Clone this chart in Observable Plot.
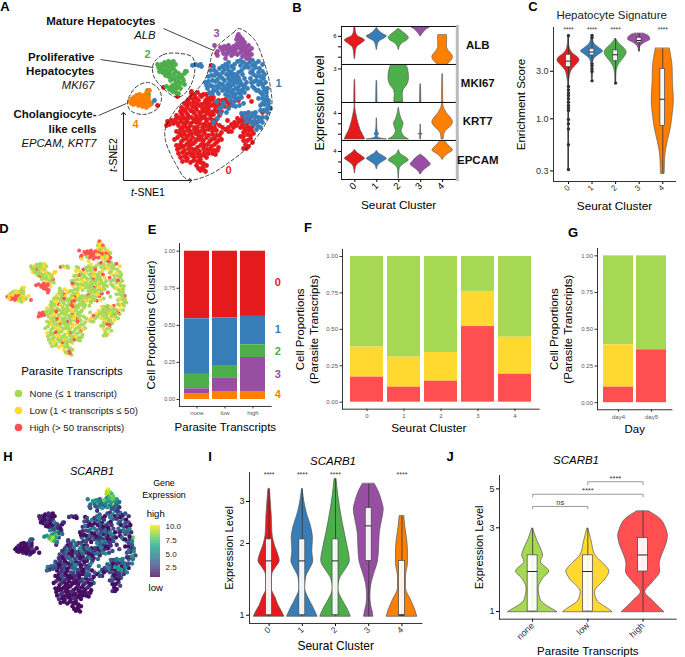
<!DOCTYPE html>
<html><head><meta charset="utf-8">
<script src="https://cdn.jsdelivr.net/npm/d3@7"></script>
<script src="https://cdn.jsdelivr.net/npm/@observablehq/plot@0.6"></script>
<style>
html,body{margin:0;background:#fff}
#fig{position:relative;width:685px;height:657px;overflow:hidden;font-family:"Liberation Sans",Arial,sans-serif;color:#000}
.note{position:absolute;white-space:nowrap;transform:translate(-50%,-50%);line-height:1}
</style></head><body><div id="fig"></div>
<script>
// ---------- colours and categories
const clusterColors=["#E41A1C","#377EB8","#4DAF4A","#984EA3","#FF7F00"];
const parasiteColors=["#A6D854","#FFD92F","#FF4F50"];
const clusterNames=["0","1","2","3","4"];
const parasiteNames=["none","low","high"];
const dayNames=["day4","day5"];
const parasiteLegend=["None (≤ 1 transcript)","Low (1 < transcripts ≤ 50)","High (> 50 transcripts)"];

// ---------- t-SNE cells: [tSNE1, tSNE2, parasite class, SCARB1 expression]
const cluster0=[[191,93,0,3],[197,92,1,5],[203,94,0,2],[190,97,0,1],[196,98,2,4],[201,96,0,1],[207,98,0,6],[213,97,1,2],
[187,101,0,1],[193,102,0,3],[198,100,1,5],[204,103,0,2],[209,101,2,1],[215,102,0,5],[222,100,0,3],[228,103,1,2],
[186,105,1,4],[192,106,0,1],[199,105,0,4],[205,107,2,1],[211,105,0,3],[218,107,0,1],[224,106,1,5],[231,104,0,2],
[183,109,0,1],[190,110,2,3],[196,109,0,2],[202,111,0,6],[208,109,1,1],[214,110,0,4],[221,111,0,1],
[181,113,0,3],[187,114,1,1],[194,113,0,5],[200,115,0,1],[207,113,2,3],[213,114,0,1],[219,115,1,4],[242,116,0,3],[247,113,2,5],
[178,117,0,1],[184,118,0,3],[191,117,0,1],[197,119,1,5],[203,117,0,2],[210,118,0,3],[216,119,0,1],[237,118,1,4],[243,120,0,1],[250,117,0,6],
[167,121,2,5],[171,120,2,4],[169,124,2,2],[173,123,2,3],[180,121,0,1],[186,122,1,3],[193,121,0,1],[199,123,0,4],[206,121,2,1],[212,122,0,2],[227,120,0,5],[234,122,1,3],[242,124,0,2],[248,121,0,5],[256,122,2,1],
[166,125,2,4],[178,125,0,1],[185,126,0,3],[190,125,1,1],[197,127,0,3],[205,125,0,1],[211,127,2,4],[219,125,0,1],[228,127,1,6],[236,125,0,2],[244,128,0,4],[252,126,1,3],
[180,129,1,1],[187,130,0,2],[194,129,0,1],[200,131,2,2],[208,129,0,1],[216,130,0,3],[225,129,1,1],[231,131,0,2],[243,132,0,4],[249,130,0,2],
[179,133,0,1],[184,134,0,4],[191,133,2,1],[198,135,0,2],[204,133,0,1],[212,134,1,1],[219,135,0,3],[240,136,0,2],[247,134,2,1],[253,133,0,3],
[177,137,0,2],[186,138,1,1],[192,137,0,1],[199,139,0,1],[206,137,1,2],[214,138,0,1],[221,139,0,4],[243,140,1,1],[250,138,0,2],
[181,141,0,1],[188,142,0,1],[195,141,1,1],[202,143,0,2],[209,141,0,1],[216,142,2,1],[245,144,0,1],[252,142,0,3],
[176,145,1,1],[183,146,0,1],[190,145,0,1],[197,147,0,1],[204,145,2,2],[211,146,0,1],[218,147,0,1],[243,148,0,2],[248,146,1,1],
[177,149,0,1],[184,150,0,2],[192,149,1,1],[199,151,0,1],[207,149,0,1],[214,150,0,2],
[178,153,0,1],[186,154,1,1],[193,153,0,1],[201,155,0,1],[208,153,2,1],[215,154,0,1],
[180,157,0,2],[187,158,0,1],[194,157,2,1],[200,159,0,1],[206,157,1,1],
[182,161,0,1],[190,162,1,1],[197,161,0,1],[203,163,0,1],
[196,165,1,1],[202,167,2,1],[206,165,0,1],[200,170,1,1],[205,171,0,1],
[248,96,2,2],[251,101,0,3],[262,112,1,3],[238,100,2,1],[216,53,2,4],[211,65,0,1],[191,91,0,2],[163,87,2,5],[177,96,2,2],[157,105,2,1]];
const cluster0Fill=[[194,95,0,2],[200,95,1,4],[206,94,0,3],[210,97,0,1],[188,99,1,3],[193,99,0,2],[205,100,0,5],[212,99,1,4],[218,100,0,1],[225,99,2,3],
[184,103,0,2],[189,103,0,4],[196,103,2,1],[201,104,0,3],[207,103,1,5],[213,104,0,2],[219,104,0,4],[226,101,0,1],
[181,107,0,3],[187,107,1,3],[195,107,0,1],[202,108,0,2],[208,106,2,4],[215,106,0,1],[221,105,1,2],[228,107,0,5],
[180,111,0,2],[185,111,0,1],[192,111,1,4],[199,112,0,3],[205,111,2,1],[211,112,0,3],[217,111,0,5],
[176,115,1,3],[182,115,0,2],[188,116,0,1],[196,116,0,4],[204,116,1,2],[210,115,0,1],
[175,119,0,4],[181,119,0,1],[187,119,2,3],[194,119,0,2],[200,119,0,5],[206,119,1,1],[213,120,0,2],[240,120,0,3],[246,118,1,2],
[176,122,0,3],[183,123,1,2],[190,123,0,1],[196,122,0,4],[203,124,0,3],[209,124,1,1],[215,123,0,3],[231,124,2,2],[238,122,0,5],[246,124,0,1],[252,122,1,4],
[182,127,0,2],[188,128,2,1],[194,127,0,3],[202,127,0,2],[208,127,1,1],[214,127,0,4],[222,127,0,3],[233,127,0,1],[240,127,1,3],[248,127,0,2],
[176,131,0,1],[183,131,0,3],[190,131,1,1],[197,131,0,2],[204,130,0,1],[212,131,2,3],[221,132,0,1],[228,131,0,3],[245,130,1,1],[251,130,0,2],
[181,135,1,1],[188,135,0,2],[195,133,0,1],[201,136,0,1],[208,135,1,3],[216,135,0,2],[243,136,0,3],[250,135,2,1],
[174,139,0,1],[183,139,0,2],[190,140,1,1],[196,139,0,1],[203,140,0,1],[211,139,0,2],[218,140,1,1],[247,140,0,1],
[180,144,0,1],[186,144,2,1],[193,143,0,1],[200,145,1,1],[207,144,0,1],[214,144,0,2],[246,148,0,1],
[180,147,0,1],[188,148,1,1],[195,149,0,2],[203,148,0,1],[210,149,1,1],[217,150,0,1],
[182,152,0,2],[189,152,0,1],[197,153,1,1],[204,152,0,1],[212,153,0,1],[184,156,1,1],[191,155,0,1],[198,156,0,2],[204,155,0,1],[186,160,0,1],[193,160,1,1],[200,162,0,1],[198,168,0,1],[203,169,2,1]];
const cluster1=[[208,76,0,2],[210,70,1,3],[213,66,0,3],[216,72,0,1],[219,68,2,5],[222,66,0,2],[225,64,0,4],[228,62,1,4],[231,66,0,2],[234,64,0,1],[237,61,0,3],[240,60,2,2],[243,62,0,5],[246,64,1,1],[249,62,0,4],[252,60,0,4],[255,63,0,1],[258,61,2,3],[255,67,0,5],[259,68,0,1],[262,64,1,2],[262,71,0,3],
[205,82,0,1],[207,88,1,4],[210,85,0,1],[212,80,0,3],[214,75,2,1],[217,79,0,5],[220,76,0,5],[222,72,1,1],[209,92,0,2],[213,90,0,4],[216,86,0,4],[219,83,1,1],[222,90,0,3],[218,93,0,1],[224,80,0,3],
[226,74,0,1],[228,70,0,4],[231,72,1,1],[234,74,0,6],[228,78,0,3],[231,80,2,2],[235,78,0,5],[238,72,0,3],[241,70,1,1],[227,84,0,4],[230,86,0,5],[233,84,0,1],[236,82,1,3],[239,80,0,1],[226,90,0,3],[229,92,0,3],[232,90,2,1],[235,88,0,5],[238,86,0,1],[241,84,0,4],[244,78,1,3],[232,96,0,2],[235,94,0,5],[238,92,0,3],[241,90,1,1],[230,100,0,5],[234,101,0,2],[228,96,0,4],[238,98,0,1],[241,97,2,2],[244,92,0,3],[244,85,0,6],[247,88,0,1],
[250,72,0,4],[253,74,1,1],[256,76,0,3],[260,76,0,1],[263,78,0,5],[250,78,2,4],[254,81,0,1],[258,84,0,3],[262,84,1,5],[265,82,0,2],[252,86,0,1],[256,90,0,3],[260,92,0,5],[264,90,1,2],[267,88,0,8],[262,98,0,1],[266,96,0,3],[268,100,2,4],[264,104,0,1],[268,106,0,9],[263,110,1,2],[267,112,0,4],[260,105,0,3],[270,108,0,3],[258,98,0,1],
[241,113,1,4],[244,117,0,1],[248,112,0,5],[251,116,0,2],[255,112,2,5],[258,117,0,4],[254,120,0,1],[250,122,1,6],[246,121,0,6],[257,125,0,3],[260,127,0,5],[256,129,1,2],[262,122,0,1],[266,117,0,5],
[216,101,0,4],[222,106,1,4],[220,113,0,2],[217,118,0,5],[228,108,0,2],[235,106,2,6],[243,103,0,3],[213,122,0,3],[192,65,2,2],[195,64,0,3],[198,65,1,1],[200,64,0,2],[201,66,0,1],[185,71,0,4],[154,100,1,1],[151,103,0,2]];
const cluster1Fill=[[211,75,0,4],[214,70,1,2],[218,74,0,1],[224,69,0,3],[227,66,0,5],[233,68,2,2],[240,65,0,5],[244,67,0,4],[248,67,1,2],[252,65,0,1],
[208,81,0,2],[212,86,0,1],[215,81,1,3],[219,87,0,3],[222,84,0,1],[222,78,0,5],[206,85,2,1],[212,93,0,3],[216,90,1,2],[224,87,0,1],[225,94,0,5],
[229,74,0,3],[236,75,0,2],[232,76,1,1],[229,82,0,3],[234,81,0,4],[238,77,0,1],[242,74,2,2],[240,82,0,5],[237,89,1,1],[233,93,0,4],[243,88,0,3],[240,94,0,2],[235,98,1,1],[231,92,0,5],[228,88,0,2],[246,82,0,1],
[252,70,0,3],[258,72,1,3],[264,74,0,1],[251,82,0,2],[256,80,0,5],[260,81,2,4],[263,87,0,1],[254,88,0,4],[258,90,1,1],[262,94,0,3],[266,92,0,5],[265,100,0,2],[262,103,1,4],[266,109,0,6],[260,110,0,2],[268,103,0,5],
[244,113,0,3],[252,113,1,5],[248,117,0,2],[255,116,0,4],[260,120,2,2],[253,124,0,6],[258,121,0,5],[262,117,1,3],[223,102,0,2],[232,105,0,5],[239,105,1,3],[219,108,0,1],[226,112,0,4]];
const cluster2=[[157,64,0,2],[159,66,0,1],[161,64,1,2],[163,66,0,1],[165,64,0,1],[167,66,0,3],[169,63,0,1],[171,62,0,2],[173,61,1,1],[175,64,0,1],[171,67,0,1],[167,69,0,2],[163,69,2,1],[160,68,0,1],[158,67,0,2],[159,71,1,1],[162,72,0,1],[165,72,0,3],[168,72,0,1],[170,70,1,1],[173,68,0,2],[165,75,0,1],[168,76,2,1],[171,78,0,2],[173,74,0,1],[175,71,1,5],[178,73,0,3],[181,75,0,2],[184,73,1,1],[176,77,0,4],[178,81,0,7],[175,83,1,6],[172,85,2,5],[180,83,0,3],[183,80,2,2],[184,84,0,4],[170,80,0,5],[186,71,1,2],[166,86,2,6],[169,89,2,8],[172,91,2,9],[175,92,2,7],[178,93,2,5],[180,88,1,3],[177,86,2,8],[147,90,1,3],[148,94,0,1],
[164,62,0,1],[168,61,0,2],[172,65,1,1],[161,70,0,1],[166,71,0,2],[169,74,0,1],[174,79,0,3],[179,77,1,2],[182,78,0,1],[176,88,2,6],[170,87,2,7],[173,88,2,9]];
const cluster3=[[214,45,2,5],[217,55,1,3],[220,47,2,6],[222,50,2,4],[224,46,2,5],[226,49,2,7],[228,45,2,3],[230,48,2,5],[232,51,2,4],[234,48,2,7],[236,44,1,5],[234,53,2,3],[231,55,2,6],[228,52,2,4],[226,54,2,5],[223,53,0,3],[225,58,1,2],[237,36,1,8],[238,34,2,10],[240,37,1,9],[236,39,0,9],[239,41,1,6],[242,39,2,7],[241,43,1,10],[244,42,0,8],[238,47,2,6],[242,47,1,5],[245,46,2,7],[248,45,1,6],[246,49,2,5],[243,51,0,9],[249,50,2,5],[251,48,0,4],[240,52,1,4],[237,54,2,6],[245,54,0,3],[248,54,1,5],[251,54,2,2],[242,56,1,3],[246,58,0,4],[249,58,2,2],[217,51,2,4],
[223,47,2,6],[229,50,2,4],[233,46,2,8],[239,44,0,7],[243,45,1,8],[235,50,1,5],[241,49,2,6],[247,52,1,4],[227,47,2,5],[238,38,1,9]];
const cluster4=[[129,101,2,1],[131,99,1,1],[133,97,0,2],[134,102,2,1],[136,95,0,1],[137,100,1,1],[138,105,2,2],[140,97,0,1],[141,102,2,1],[142,106,1,1],[143,95,0,3],[144,100,1,1],[145,104,0,1],[146,98,1,2],[147,102,0,1],[148,97,0,1],[149,101,1,3],[136,103,2,1],[133,104,2,1],[139,94,1,1],[146,107,0,2],[142,99,2,1],[150,104,0,1],[131,103,1,1],[138,100,2,1],[146,92,0,4],[149,90,1,3],
[135,99,1,1],[139,103,2,1],[143,103,0,1],[148,105,1,1],[145,95,0,2],[141,96,1,1]];
const tsneCells=[cluster0.concat(cluster0Fill),cluster1.concat(cluster1Fill),cluster2,cluster3,cluster4];
const regionA=[[213,50],[233,32],[238,28],[253,38],[263,60],[270,87],[271,107],[263,127],[247,147],[227,163],[207,175],[187,179],[175,163],[165,140],[165,128],[177,107],[193,93],[205,78],[210,60]];
const regionB=[[153,63],[163,54],[180,53],[192,57],[194,73],[187,90],[177,97],[163,88],[153,75]];
const regionC=[[127,102],[135,87],[147,82],[157,87],[161,97],[157,108],[143,114],[130,110]];
const leaders=[[163,28,213,50],[100,59,153,67],[98,115,126,103]];
const textA=[["Mature Hepatocytes",155,21,"b"],["ALB",155,35,"i"],["Proliferative",94,57,"b"],["Hepatocytes",94,71,"b"],["MKI67",94,85,"i"],["Cholangiocyte-",96,114,"b"],["like cells",96,129,"b"],["EPCAM, KRT7",96,143,"i"]];
const clusterTagsA=[[228,170],[278,83],[147,54],[216,33],[135,124]];

// ---------- violin profiles: [value, half width in category units]
const albV=[[[7.1,.02],[6.4,.05],[6,.15],[5.8,.35],[5.6,.46],[5.3,.3],[5,.12],[4.6,.05],[4.2,.03],[3.8,.01]],
[[6.8,.01],[6.5,.12],[6.2,.3],[6,.46],[5.8,.35],[5.5,.12],[5.1,.04],[4.7,.01]],
[[6.7,.02],[6.4,.2],[6.1,.38],[5.85,.46],[5.6,.38],[5.3,.15],[5,.05],[4.7,.01]],
[[7.6,.1],[7.2,.35],[6.95,.47],[6.7,.3],[6.4,.15],[6,.01]],
[[6.1,.2],[5.8,.21],[5.4,.2],[5,.2],[4.6,.28],[4.3,.4],[4,.47],[3.7,.42],[3.4,.28],[3.2,.15]]];
const mkiV=[[[2,.015],[.1,.03],[0,.03]],[[1.9,.015],[.1,.03],[0,.03]],
[[3.5,.2],[3.3,.35],[2.8,.44],[2.2,.47],[1.6,.4],[1.1,.22],[.7,.18],[.3,.2],[0,.2]],
[[1.6,.015],[.1,.03],[0,.03]],[[2.5,.015],[.1,.03],[0,.03]]];
const krtV=[[[5.1,.01],[4.5,.02],[4,.06],[3.4,.12],[2.8,.2],[2.3,.28],[1.9,.38],[1.5,.47]],
[[3.5,.01],[2.7,.02],[2.2,.05],[2,.1],[1.8,.04],[1.65,.1],[1.5,.46]],
[[4.5,.01],[4,.05],[3.5,.12],[3,.22],[2.6,.17],[2.3,.13],[2,.18],[1.7,.3],[1.5,.46]],
[[2.9,.01],[2.1,.02],[2,.09],[1.9,.02],[1.5,.02]],
[[5,.01],[4.5,.07],[4,.2],[3.6,.36],[3.15,.47],[2.7,.36],[2.3,.15],[1.9,.07],[1.5,.05]]];
const epcV=[[[4.15,.01],[3.9,.1],[3.6,.3],[3.3,.46],[3.05,.3],[2.7,.1],[2.3,.03],[1.9,.01]],
[[4.05,.01],[3.8,.1],[3.55,.3],[3.3,.46],[3.05,.3],[2.75,.1],[2.5,.03],[2.3,.01]],
[[4.1,.01],[3.7,.12],[3.4,.35],[3.15,.46],[2.9,.3],[2.6,.12],[2.2,.03],[1.4,.01]],
[[3.7,.01],[3.4,.2],[3.05,.36],[2.76,.46],[2.45,.3],[2.15,.12],[1.8,.01]],
[[5.1,.08],[4.7,.22],[4.4,.36],[4.1,.47],[3.8,.28],[3.5,.1],[3.2,.01]]];
const sigV=[[[6.9,.01],[5.6,.03],[5,.07],[4.5,.2],[4.1,.42],[3.85,.47],[3.5,.35],[3.1,.15],[2.6,.05],[2.2,.02],[1.2,.01],[.3,.01]],
[[6.8,.01],[6.2,.04],[5.6,.12],[5.1,.32],[4.75,.47],[4.4,.3],[4,.1],[3.5,.03],[2.5,.01]],
[[6.35,.01],[5.9,.1],[5.4,.25],[5,.4],[4.6,.47],[4.1,.36],[3.6,.17],[3.1,.05],[2.7,.02],[2.3,.01]],
[[7.15,.2],[6.9,.35],[6.5,.46],[6.2,.47],[5.8,.25],[5.4,.08],[5,.02],[4.7,.01]],
[[5.04,.3],[4.2,.36],[3.3,.42],[2.4,.43],[1.53,.47],[1.1,.42],[.8,.34],[.6,.22],[.45,.12],[.35,.09],[.28,.08]]];
const sigBox=[[3.3,3.79,4.39],[4.32,4.67,5.04],[3.79,4.39,4.85],[5.8,6.1,6.5],[.85,1.57,3.17]];
const sigOut=[[0,2.11],[0,1.95],[0,1.81],[0,1.71],[0,1.59],[0,1.47],[0,1.36],[0,1.29],[0,1.21],[0,.985],[0,.89],[0,.79],[0,.55],[0,.31],[0,6.8],
[1,6.86],[1,6.5],[1,3.56],[1,3.38],[1,3.17],[1,2.98],[1,2.41],[2,2.28]];
const scarbClusterV=[[[3.38,.02],[3,.05],[2.6,.08],[2.2,.1],[1.95,.18],[1.75,.3],[1.69,.32],[1.58,.2],[1.49,.1],[1.38,.08],[1.29,.08],[1.18,.2],[1.1,.28],[1.04,.38],[.985,.46]],
[[3.38,.01],[3,.06],[2.7,.13],[2.3,.28],[2.1,.32],[1.85,.3],[1.69,.33],[1.55,.22],[1.45,.12],[1.3,.08],[1.17,.2],[1.08,.33],[1.03,.4],[.985,.46]],
[[3.72,.03],[3.2,.08],[2.7,.16],[2.2,.28],[1.95,.36],[1.69,.43],[1.55,.3],[1.42,.13],[1.29,.08],[1.15,.22],[1.05,.38],[.985,.46]],
[[3.55,.18],[3.3,.3],[3,.4],[2.78,.45],[2.5,.4],[2.2,.33],[1.9,.31],[1.69,.28],[1.5,.17],[1.35,.08],[1.2,.05],[1.1,.07],[1.03,.12],[.985,.14]],
[[2.6,.07],[2.35,.1],[2.1,.15],[1.85,.18],[1.65,.18],[1.45,.12],[1.3,.12],[1.15,.28],[1.05,.4],[.985,.46]]];
const scarbClusterBox=[[1,1.69,2.08],[1,1.69,2.08],[1,1.69,2.08],[1.69,2.37,2.82],[1,1,1.69]];
const scarbParasiteV=[[[2.96,.01],[2.6,.07],[2.2,.17],[2.08,.19],[1.92,.15],[1.69,.3],[1.54,.19],[1.35,.11],[1.155,.15],[1.03,.36],[.99,.45]],
[[2.96,.01],[2.5,.07],[2.1,.13],[1.85,.3],[1.69,.39],[1.54,.33],[1.29,.13],[1.155,.17],[1.03,.38],[.99,.45]],
[[3.72,.11],[3.4,.3],[2.95,.42],[2.7,.45],[2.4,.42],[2.08,.34],[1.85,.3],[1.69,.31],[1.47,.18],[1.29,.04],[1.155,.17],[1.03,.33],[.99,.39]]];
const scarbParasiteBox=[[1,1.69,2.09],[1,1.69,2.09],[1.69,2.1,2.62]];
const brackets=[[0,1,3.97,3.85,"ns",4.2,.5],[0,2,4.66,4.51,"****",4.9,1],[1,2,5.49,5.28,"****",5.75,1.5]];

// ---------- proportions
const clusterShare={"0":[.456,.449,.44],"1":[.375,.322,.191],"2":[.097,.087,.086],"3":[.032,.088,.234],"4":[.04,.054,.049]};
const byClusterHigh=[.172,.103,.144,.519,.192];
const byClusterLow=[.206,.206,.197,.241,.254];
const byClusterNone=[.622,.691,.659,.24,.554];
const byDayHigh=[.106,.36];
const byDayLow=[.288,0];
const byDayNone=[.606,.64];

// ---------- helpers
const fig=document.getElementById("fig");
const FONT='"Liberation Sans",Arial,sans-serif';
function panel([l,t,r,b],opts){
  const svg=Plot.plot({width:r-l,height:b-t,margin:0,style:{background:"none",overflow:"visible",fontFamily:FONT},...opts});
  svg.style.position="absolute";svg.style.left=l+"px";svg.style.top=t+"px";svg.style.maxWidth="none";
  fig.append(svg);
}
function note(html,x,y,{size=11,weight="normal",color="#000",rot=0,style="normal"}={}){
  const d=document.createElement("div");d.className="note";d.innerHTML=html;
  d.style.cssText=`left:${x}px;top:${y}px;font-size:${size}px;font-weight:${weight};color:${color};font-style:${style};transform:translate(-50%,-50%) rotate(${rot}deg)`;
  fig.append(d);
}
const yTitle=(t,off,size=11.5)=>Plot.axisY({ticks:[],tickSize:0,label:t,labelAnchor:"center",labelArrow:"none",labelOffset:off,fontSize:size,fill:"#000"});
const xTitle=(t,off,size=11.5)=>Plot.axisX({ticks:[],tickSize:0,label:t,labelAnchor:"center",labelArrow:"none",labelOffset:off,fontSize:size,fill:"#000"});
const axisLines=(c="#333",w=1)=>[Plot.frame({anchor:"left",stroke:c,strokeWidth:w}),Plot.frame({anchor:"bottom",stroke:c,strokeWidth:w})];
function violin(profile,i,fill,sw=.6){
  return Plot.areaX(profile,{y:d=>d[0],x1:d=>i-d[1],x2:d=>i+d[1],fill,stroke:"#555",strokeWidth:sw,curve:"monotone-y",clip:true});
}
function boxMarks(box,i,w,top,bottom){
  return [
    Plot.ruleX([i],{y1:bottom,y2:top,stroke:"#333",strokeWidth:.8}),
    Plot.rect([box],{x1:()=>i-w,x2:()=>i+w,y1:d=>d[0],y2:d=>d[2],fill:"#fff",stroke:"#444",strokeWidth:.7,fillOpacity:.93}),
    Plot.ruleY([box[1]],{x1:i-w,x2:i+w,stroke:"#222",strokeWidth:1})
  ];
}
const stack=(cats,seriesNames,seriesValues)=>seriesNames.flatMap((s,k)=>cats.map((c,j)=>({cat:c,s,v:seriesValues[k][j]})));
const propY={ticks:[0,.25,.5,.75,1],tickFormat:".2f",tickSize:2.5,tickPadding:2,fontSize:6,fill:"#555",stroke:"#333",label:null};
const propX={tickSize:2.5,tickPadding:2,fontSize:6,fill:"#555",stroke:"#333",label:null};

// ---------- A
panel([0,0,290,200],{x:{domain:[0,290],axis:null},y:{domain:[200,0],axis:null},marks:[
  ...tsneCells.map((c,i)=>Plot.dot(c,{x:d=>d[0],y:d=>d[1],r:2.4,fill:clusterColors[i]})),
  ...[regionA,regionB,regionC].map(r=>Plot.line(r,{x:d=>d[0],y:d=>d[1],curve:"catmull-rom-closed",stroke:"#111",strokeWidth:.8,strokeDasharray:"3.5,2.5"})),
  Plot.link(leaders,{x1:d=>d[0],y1:d=>d[1],x2:d=>d[2],y2:d=>d[3],stroke:"#111",strokeWidth:.8}),
  Plot.link([[123,180,123,113],[123,180,190,180]],{x1:d=>d[0],y1:d=>d[1],x2:d=>d[2],y2:d=>d[3],stroke:"#222",strokeWidth:1,markerEnd:"arrow"}),
  Plot.text(textA.filter(d=>d[3]=="b"),{x:d=>d[1],y:d=>d[2],text:d=>d[0],textAnchor:"end",fontSize:11.5,fontWeight:"bold",fill:"#111"}),
  Plot.text(textA.filter(d=>d[3]=="i"),{x:d=>d[1],y:d=>d[2],text:d=>d[0],textAnchor:"end",fontSize:11.3,fontStyle:"italic",fill:"#111"}),
  ...clusterTagsA.map((d,i)=>Plot.text([clusterNames[i]],{x:()=>d[0],y:()=>d[1],text:t=>t,fontSize:11,fontWeight:"bold",fill:clusterColors[i]}))
]});
note("<i>t</i>-SNE1",148,192,{size:10.5});
note("<i>t</i>-SNE2",113,155,{size:10.5,rot:-90});

// ---------- B
const bX={domain:[-.61,4.6],axis:null};
const bRows=[
 {name:"ALB",box:[340.7,26,455,64],d:[3.3,6.95],V:albV,ticks:[6,5,4],lab:[6]},
 {name:"MKI67",box:[340.7,64,455,102],d:[0,3.4],V:mkiV,ticks:[3],lab:[3]},
 {name:"KRT7",box:[340.7,102,455,140],d:[1.4,5.05],V:krtV,ticks:[4,3,2],lab:[4]},
 {name:"EPCAM",box:[340.7,140,455,179],d:[1.33,5.05],V:epcV,ticks:[4,3,2],lab:[4]}];
for(const r of bRows){
  panel(r.box,{x:bX,y:{domain:r.d,axis:null},marks:[
    ...r.V.map((p,i)=>violin(p,i,clusterColors[i])),
    Plot.axisY({ticks:r.ticks,tickSize:3,tickPadding:2,fontSize:6,label:null,tickFormat:v=>r.lab.includes(v)?String(v):""}),
    Plot.frame({anchor:"left",stroke:"#222"}),Plot.frame({anchor:"bottom",stroke:"#111"}),Plot.frame({anchor:"top",stroke:"#111"}),
    Plot.frame({anchor:"right",stroke:"#bbb",strokeWidth:3,dx:1.5}),
    Plot.text([r.name],{frameAnchor:"right",dx:22,text:d=>d,textAnchor:"middle",fontSize:11.5,fontWeight:"bold",fill:"#111"})
  ]});
}
panel([340.7,26,455,179],{x:{...bX},y:{domain:[0,1],axis:null},marks:[
  Plot.axisX({ticks:[0,1,2,3,4],tickSize:3,tickRotate:-45,fontSize:9.5,tickFormat:d=>String(d),tickPadding:2,label:null}),
  yTitle("Expression Level",26,12.5),xTitle("Seurat Cluster",30,11.8)
]});

// ---------- C
panel([553,27,675,181],{x:{domain:[-.635,4.54],axis:null},y:{type:"log",domain:[.235,8.24],axis:null},marks:[
  ...sigV.map((p,i)=>Plot.ruleX([i],{y1:p[p.length-1][0],y2:p[0][0],stroke:"#555",strokeWidth:.8})),
  ...sigV.map((p,i)=>violin(p,i,clusterColors[i])),
  Plot.dot(sigOut,{x:d=>d[0],y:d=>d[1],r:1.7,fill:"#333"}),
  ...sigV.flatMap((p,i)=>boxMarks(sigBox[i],i,.1,p[0][0],p[p.length-1][0])),
  Plot.text([0,1,2,4],{x:d=>d,y:()=>7.88,text:()=>"****",fontSize:6.5,fill:"#333"}),
  Plot.axisY({ticks:[.3,1,3],tickFormat:".1f",tickSize:3,fontSize:9,tickPadding:2,fill:"#333",label:null}),
  Plot.axisX({ticks:[0,1,2,3,4],tickSize:3,tickRotate:-45,fontSize:8,tickFormat:d=>String(d),tickPadding:2,label:null,fill:"#333"}),
  ...axisLines(),yTitle("Enrichment Score",37,11.5),xTitle("Seurat Cluster",28,11.8)
]});
note("Hepatocyte Signature",611.7,16,{size:11.5,color:"#222"});

// ---------- D
const allCells=d3.merge(tsneCells);
panel([0,220,170,370],{x:{domain:[128-6/.845,128+164/.845],axis:null},y:{domain:[33+130/.827,33-20/.827],axis:null},
  color:{type:"ordinal",domain:[0,1,2],range:parasiteColors},marks:[
  Plot.dot(allCells,{x:d=>d[0],y:d=>d[1],r:2,fill:d=>d[2],fillOpacity:.95})
]});
note("Parasite Transcripts",72,372,{size:11.5});
panel([18,383.5,170,434.5],{x:{domain:[0,152],axis:null},y:{type:"point",domain:parasiteLegend,padding:.5,axis:null},marks:[
  Plot.dot(parasiteLegend,{x:()=>0,y:d=>d,r:3.8,fill:d=>parasiteColors[parasiteLegend.indexOf(d)]}),
  Plot.text(parasiteLegend,{x:()=>11,y:d=>d,text:d=>d,textAnchor:"start",fontSize:9.6,fill:"#222"})
]});

// ---------- E
panel([179.3,243,271,406],{x:{type:"band",domain:parasiteNames,paddingInner:.1,paddingOuter:.14,axis:null},y:{domain:[-.0472,1.0519],axis:null},
  color:{domain:clusterNames,range:clusterColors},marks:[
  Plot.barY(stack(parasiteNames,clusterNames,clusterNames.map(c=>clusterShare[c])),{x:"cat",y:"v",fill:"s",order:[...clusterNames].reverse()}),
  Plot.axisY({...propY,fontSize:5.6}),Plot.axisX(propX),
  ...axisLines(),yTitle("Cell Proportions (Cluster)",33,11.5),xTitle("Parasite Transcripts",25,11.5)
]});
[[282],[329],[351],[374],[394]].forEach((d,i)=>note(clusterNames[i],277.7,d[0],{size:11,weight:"bold",color:clusterColors[i]}));

// ---------- F
panel([342.3,249,539,408.7],{x:{type:"band",domain:clusterNames,paddingInner:.095,paddingOuter:.14,axis:null},y:{domain:[-.048,1.048],axis:null},
  color:{domain:parasiteNames,range:parasiteColors},marks:[
  Plot.barY(stack(clusterNames,parasiteNames,[byClusterNone,byClusterLow,byClusterHigh]),{x:"cat",y:"v",fill:"s",order:["high","low","none"]}),
  Plot.axisY(propY),Plot.axisX(propX),
  ...axisLines(),yTitle("Cell Proportions",47,11.5),yTitle("(Parasite Transcripts)",33,11.5),
  Plot.text(["Seurat Cluster"],{frameAnchor:"bottom",dx:-12,dy:23,lineAnchor:"bottom",text:d=>d,fontSize:11.8,fill:"#000"})
]});

// ---------- G
panel([597.3,248,671.7,409.3],{x:{type:"band",domain:dayNames,paddingInner:.09,paddingOuter:.16,axis:null},y:{domain:[-.048,1.05],axis:null},
  color:{domain:parasiteNames,range:parasiteColors},marks:[
  Plot.barY(stack(dayNames,parasiteNames,[byDayNone,byDayLow,byDayHigh]),{x:"cat",y:"v",fill:"s",order:["high","low","none"]}),
  Plot.axisY(propY),Plot.axisX(propX),
  ...axisLines(),yTitle("Cell Proportions",48,11.5),yTitle("(Parasite Transcripts)",34,11.5),xTitle("Day",23,11.5)
]});

// ---------- H
const viridis={type:"linear",scheme:"viridis",domain:[.7,10.2]};
panel([0,470,170,640],{x:{domain:[128-14/.852,128+156/.852],axis:null},y:{domain:[33+152/.892,33-18/.892],axis:null},color:viridis,marks:[
  Plot.dot(allCells,{x:d=>d[0],y:d=>d[1],r:2.2,fill:d=>d[3]})
]});
note("SCARB1",92,471,{size:11,style:"italic"});
note("Gene",164,483,{size:8.8});note("Expression",164,495,{size:8.8});
note("high",155.7,514,{size:9.5});note("low",155.7,588,{size:9.5});
const colorbarLevels=d3.range(.7,10.2,.1);
panel([150,525,160,577],{x:{domain:[0,1],axis:null},y:{domain:[.7,10.2],axis:null},color:viridis,marks:[
  Plot.rect(colorbarLevels,{x1:()=>0,x2:()=>1,y1:d=>d,y2:d=>d+.11,fill:d=>d}),
  Plot.axisY({anchor:"right",ticks:[2.5,5,7.5,10],tickFormat:".1f",tickSize:0,tickPadding:5,fontSize:8,fill:"#222",label:null})
]});

// ---------- I
panel([249.3,471.7,421.7,622.7],{x:{domain:[-.59,4.6],axis:null},y:{type:"log",domain:[.923,3.97],axis:null},marks:[
  ...scarbClusterV.map((p,i)=>violin(p,i,clusterColors[i],.7)),
  ...scarbClusterV.flatMap((p,i)=>boxMarks(scarbClusterBox[i],i,.09,p[0][0],p[p.length-1][0])),
  Plot.text([0,1,2,4],{x:d=>d,y:()=>3.87,text:()=>"****",fontSize:7,fill:"#333"}),
  Plot.axisY({ticks:[1,2,3],tickSize:3,tickPadding:2,fontSize:9,tickFormat:d3.format("d"),fill:"#222",label:null}),
  Plot.axisX({ticks:[0,1,2,3,4],tickSize:3,tickRotate:-45,fontSize:8.5,tickFormat:d=>String(d),tickPadding:2,label:null,fill:"#333"}),
  ...axisLines(),yTitle("Expression Level",24,11),xTitle("Seurat Cluster",27,12)
]});
note("SCARB1",333,462,{size:11.5,style:"italic"});

// ---------- J
panel([499.3,475,676,618.7],{x:{domain:[-.6,2.6],axis:null},y:{type:"log",domain:[.904,5.96],axis:null},marks:[
  ...scarbParasiteV.map((p,i)=>violin(p,i,parasiteColors[i],.7)),
  ...scarbParasiteV.flatMap((p,i)=>boxMarks(scarbParasiteBox[i],i,.09,p[0][0],p[p.length-1][0])),
  ...brackets.map(b=>Plot.line([[b[0],b[3]],[b[0],b[2]],[b[1],b[2]],[b[1],b[3]]],{x:d=>d[0],y:d=>d[1],stroke:"#999",strokeWidth:1})),
  Plot.text(brackets,{x:d=>d[6],y:d=>d[5],text:d=>d[4],fontSize:7.5,fill:"#333"}),
  Plot.axisY({ticks:[1,3,5],tickSize:3,tickPadding:2,fontSize:9,tickFormat:d3.format("d"),fill:"#222",label:null}),
  Plot.axisX({ticks:[0,1,2],tickSize:3,tickRotate:-45,fontSize:9,tickFormat:i=>parasiteNames[i],tickPadding:2,label:null,fill:"#333"}),
  ...axisLines(),yTitle("Expression Level",24,11),xTitle("Parasite Transcripts",36,11.5)
]});
note("SCARB1",576,461,{size:11.5,style:"italic"});

// ---------- panel letters
[["A",5,6],["B",297,7],["C",533,6],["D",4,228],["E",152,229],["F",308,227],["G",573,232],["H",8,456],["I",210,456],["J",450,456]]
 .forEach(d=>note(d[0],d[1],d[2],{size:13,weight:"bold"}));
</script></body></html>
